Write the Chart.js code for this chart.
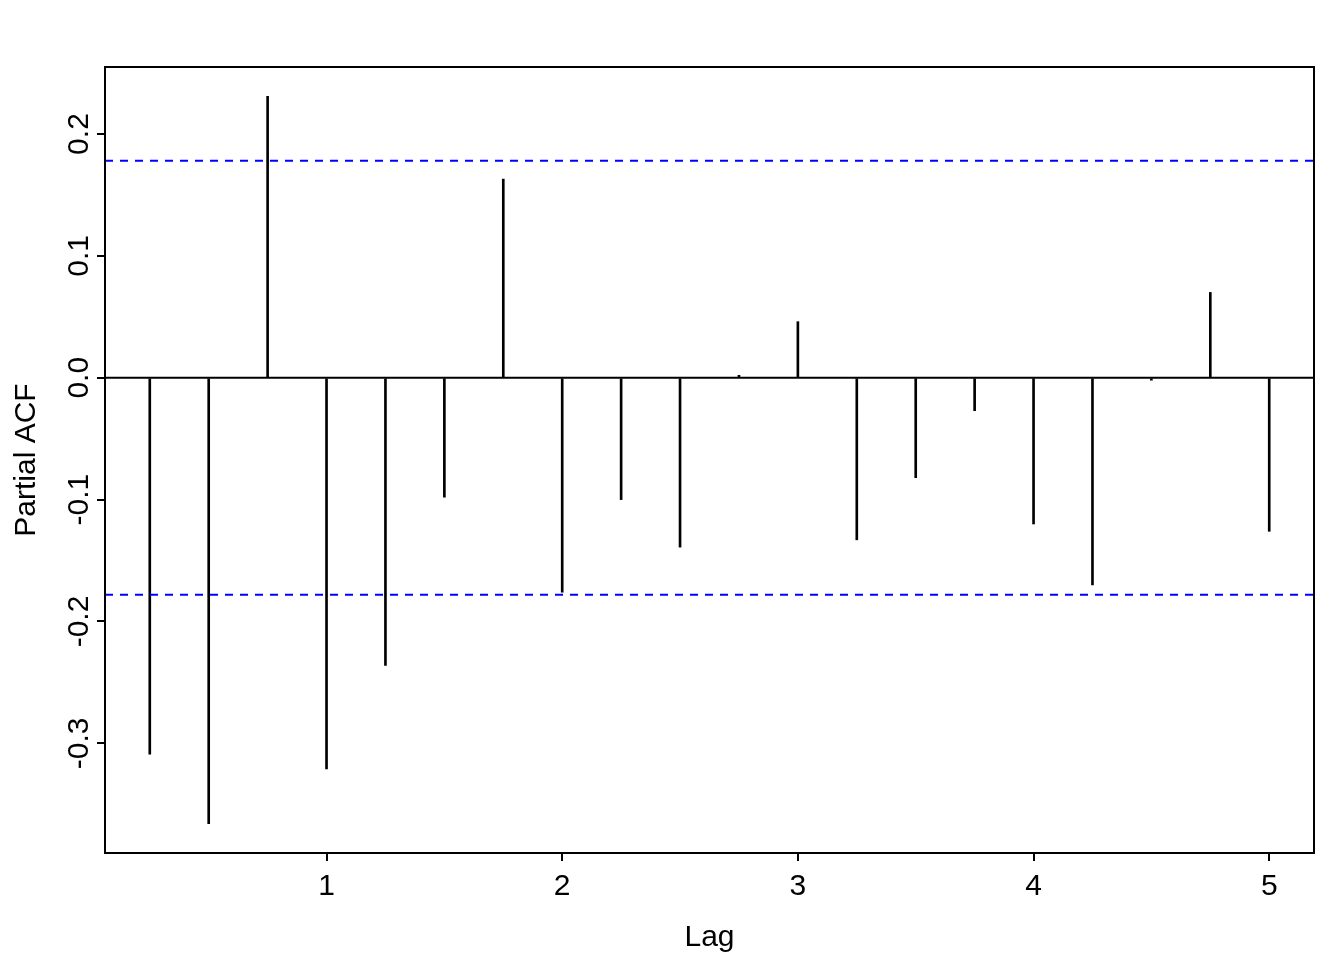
<!DOCTYPE html>
<html>
<head>
<meta charset="utf-8">
<script src="https://cdn.jsdelivr.net/npm/chart.js@4"></script>
<style>
  html, body { margin: 0; padding: 0; background: #fff; }
  #wrap { width: 1344px; height: 960px; }
</style>
</head>
<body>
<div id="wrap"><canvas id="pacf" width="1344" height="960"></canvas></div>
<script>
/* global Chart */

// lags (in years) and partial autocorrelations
const lags = [0.25, 0.5, 0.75, 1, 1.25, 1.5, 1.75, 2, 2.25, 2.5, 2.75, 3, 3.25, 3.5, 3.75, 4, 4.25, 4.5, 4.75, 5];
const pacf = [-0.309, -0.366, 0.231, -0.321, -0.236, -0.098, 0.163, -0.176, -0.1, -0.139,
  0.002, 0.046, -0.133, -0.082, -0.027, -0.12, -0.17, -0.002, 0.07, -0.126];
const ciLimit = 0.178;
const xTicks = [1, 2, 3, 4, 5];
const yTicks = [-0.3, -0.2, -0.1, 0.0, 0.1, 0.2];
const xRange = [0.06, 5.19];
const yRange = [-0.39, 0.255];

const FONT = "'Liberation Sans', Arial, sans-serif";
const FS = 30;

// box around plot + rotated y tick labels (R style)
const rFrame = {
  id: "rFrame",
  afterDraw(chart) {
    const { ctx, chartArea: a } = chart;
    const ys = chart.scales.y;
    ctx.save();
    ctx.strokeStyle = "#000";
    ctx.lineWidth = 2;
    ctx.strokeRect(a.left, a.top, a.right - a.left, a.bottom - a.top);
    ctx.fillStyle = "#000";
    ctx.font = `${FS}px ${FONT}`;
    ctx.textAlign = "center";
    ctx.textBaseline = "alphabetic";
    for (const v of yTicks) {
      ctx.save();
      ctx.translate(a.left - 17, ys.getPixelForValue(v));
      ctx.rotate(-Math.PI / 2);
      ctx.fillText(v.toFixed(1), 0, 0);
      ctx.restore();
    }
    ctx.restore();
  },
};

const hline = (y) => [{ x: xRange[0], y }, { x: xRange[1], y }];

new Chart(document.getElementById("pacf"), {
  type: "bar",
  data: {
    datasets: [
      {
        type: "bar",
        data: lags.map((l, i) => ({ x: l, y: pacf[i] })),
        backgroundColor: "#000",
        borderWidth: 0,
        barThickness: 2,
        order: 2,
      },
      {
        type: "line",
        data: hline(0),
        borderColor: "#000",
        borderWidth: 2,
        pointRadius: 0,
        order: 1,
      },
      {
        type: "line",
        data: hline(ciLimit),
        borderColor: "#0000ff",
        borderWidth: 2,
        borderDash: [8, 7],
        pointRadius: 0,
        order: 1,
      },
      {
        type: "line",
        data: hline(-ciLimit),
        borderColor: "#0000ff",
        borderWidth: 2,
        borderDash: [8, 7],
        pointRadius: 0,
        order: 1,
      },
    ],
  },
  options: {
    responsive: false,
    animation: false,
    layout: { padding: { top: 67, right: 30, left: 0, bottom: 0 } },
    plugins: { legend: { display: false }, tooltip: { enabled: false } },
    scales: {
      x: {
        type: "linear",
        min: xRange[0],
        max: xRange[1],
        offset: false,
        afterBuildTicks: (s) => { s.ticks = xTicks.map((v) => ({ value: v })); },
        afterFit: (s) => { s.height = 107; },
        border: { display: false },
        grid: { offset: false, drawOnChartArea: false, drawTicks: true, tickLength: 8, color: "#000", lineWidth: 2 },
        ticks: { color: "#000", font: { family: FONT, size: FS }, padding: 8, maxRotation: 0 },
        title: { display: true, text: "Lag", color: "#000", font: { family: FONT, size: FS }, padding: { top: 0, bottom: 4 } },
      },
      y: {
        min: yRange[0],
        max: yRange[1],
        afterBuildTicks: (s) => { s.ticks = yTicks.map((v) => ({ value: v })); },
        afterFit: (s) => { s.width = 105; },
        border: { display: false },
        grid: { drawOnChartArea: false, drawTicks: true, tickLength: 8, color: "#000", lineWidth: 2 },
        ticks: { display: false },
        title: { display: true, text: "Partial ACF", color: "#000", font: { family: FONT, size: FS }, padding: { top: 9, bottom: 0 } },
      },
    },
  },
  plugins: [rFrame],
});
</script>
</body>
</html>
